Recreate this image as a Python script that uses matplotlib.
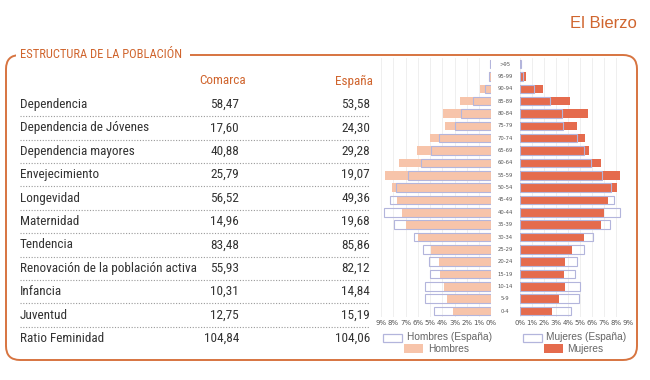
"""Estructura de la población — El Bierzo (tabla de indicadores + pirámide)."""

import numpy as np

import matplotlib
matplotlib.use("Agg")
import matplotlib.pyplot as plt
from matplotlib.patches import FancyBboxPatch, Rectangle
from matplotlib.transforms import blended_transform_factory

# ---------------------------------------------------------------------------
# Datos
# ---------------------------------------------------------------------------

indicadores = ["Dependencia", "Dependencia de Jóvenes", "Dependencia mayores",
               "Envejecimiento", "Longevidad", "Maternidad", "Tendencia",
               "Renovación de la población activa", "Infancia", "Juventud",
               "Ratio Feminidad"]
valores_comarca = [58.47, 17.60, 40.88, 25.79, 56.52, 14.96, 83.48, 55.93,
                   10.31, 12.75, 104.84]
valores_espana = [53.58, 24.30, 29.28, 19.07, 49.36, 19.68, 85.86, 82.12,
                  14.84, 15.19, 104.06]

edades = [">95", "95-99", "90-94", "85-89", "80-84", "75-79", "70-74", "65-69",
          "60-64", "55-59", "50-54", "45-49", "40-44", "35-39", "30-34",
          "25-29", "20-24", "15-19", "10-14", "5-9", "0-4"]
hombres = [0.10, 0.17, 0.90, 2.55, 3.97, 3.80, 5.04, 6.08, 7.50, 8.71, 8.10,
           7.73, 7.26, 6.96, 5.95, 4.96, 4.30, 4.19, 3.89, 3.64, 3.10]
hombres_espana = [0.10, 0.15, 0.55, 1.53, 2.47, 2.96, 4.27, 4.96, 5.73, 6.82,
                  7.75, 8.30, 8.79, 7.97, 6.30, 5.59, 5.07, 5.04, 5.42, 5.42, 4.68]
mujeres = [0.05, 0.50, 1.92, 4.20, 5.71, 4.76, 5.46, 5.74, 6.80, 8.36, 8.08,
           7.35, 7.02, 6.80, 5.35, 4.37, 3.79, 3.65, 3.73, 3.29, 2.67]
mujeres_espana = [0.05, 0.28, 1.20, 2.53, 3.54, 3.62, 4.79, 5.32, 5.90, 6.85,
                  7.60, 7.88, 8.33, 7.55, 6.13, 5.35, 4.74, 4.60, 5.01, 4.93, 4.23]
ticks_pct = list(range(0, 10))

# Estilo
NARROW = ["Liberation Sans Narrow", "Roboto Condensed", "DejaVu Sans"]
NARANJA = "#d0652e"
MARCO = "#d77440"
TEXTO = "#333333"
C_HOMBRES = "#f7c4aa"
C_MUJERES = "#e56b4d"
C_ESPANA = "#b3b5dc"
GRIS = "#666666"


def fmt(v):
    return f"{v:.2f}".replace(".", ",")


fig = plt.figure(figsize=(6.5, 3.8), dpi=100)

# Capa de fondo en píxeles (0..650 x 0..380, y hacia abajo)
bg = fig.add_axes([0, 0, 1, 1])
bg.set_xlim(0, 650)
bg.set_ylim(380, 0)
bg.axis("off")

bg.text(637, 23, "El Bierzo", ha="right", va="center", color=NARANJA,
        fontsize=12, family=["Liberation Sans", "DejaVu Sans"])

marco = FancyBboxPatch((6, 55), 631, 305,
                       boxstyle="round,pad=0,rounding_size=14",
                       fc="none", ec=MARCO, lw=1.4, zorder=1)
bg.add_patch(marco)
bg.add_patch(Rectangle((16, 48), 174, 14, fc="white", ec="none", zorder=2))
bg.text(20, 55, "ESTRUCTURA DE LA POBLACIÓN", ha="left", va="center",
        color=NARANJA, fontsize=9, family=NARROW, zorder=3)

# Tabla
bg.text(223, 81, "Comarca", ha="center", va="center", color=NARANJA,
        fontsize=9.5, family=NARROW)
bg.text(354, 81, "España", ha="center", va="center", color=NARANJA,
        fontsize=9.5, family=NARROW)
y0, paso = 104.5, 23.4
for i, (nombre, vc, ve) in enumerate(zip(indicadores, valores_comarca, valores_espana)):
    y = y0 + i * paso
    bg.text(20, y, nombre, ha="left", va="center", color=TEXTO,
            fontsize=9.5, family=NARROW)
    bg.text(239, y, fmt(vc), ha="right", va="center", color=TEXTO,
            fontsize=9.5, family=NARROW)
    bg.text(370, y, fmt(ve), ha="right", va="center", color=TEXTO,
            fontsize=9.5, family=NARROW)
    if i < len(indicadores) - 1:
        bg.plot([20, 370], [y + paso / 2, y + paso / 2], color="#9a9a9a",
                lw=0.8, ls=(0, (1, 1.5)))

# Pirámide
y_ax0 = (380 - 317.2) / 380
h_ax = (317.2 - 58.1) / 380
ax_h = fig.add_axes([381 / 650, y_ax0, 110.3 / 650, h_ax])
ax_m = fig.add_axes([520 / 650, y_ax0, 107.7 / 650, h_ax])
pos = np.arange(len(edades))

for ax, comarca, espana, color in ((ax_h, hombres, hombres_espana, C_HOMBRES),
                                   (ax_m, mujeres, mujeres_espana, C_MUJERES)):
    ax.barh(pos, comarca, height=0.68, color=color, zorder=2)
    ax.barh(pos, espana, height=0.68, fill=False, edgecolor=C_ESPANA,
            lw=0.8, zorder=3)
    ax.set_ylim(len(edades) - 0.5, -0.5)
    ax.set_yticks([])
    ax.set_xticks(ticks_pct)
    ax.set_xticklabels([f"{t}%" for t in ticks_pct])
    ax.tick_params(axis="x", length=0, labelsize=5, pad=2, colors="#555555")
    ax.grid(True, axis="x", color="#ececec", lw=0.6, zorder=0)
    ax.set_axisbelow(True)
    for s in ax.spines.values():
        s.set_visible(False)
    ax.patch.set_alpha(0)

ax_h.set_xlim(9, 0)
ax_m.set_xlim(0, 9)

trans = blended_transform_factory(ax_m.transAxes, ax_m.transData)
for p, edad in zip(pos, edades):
    ax_m.text(-15 / 107.7, p, edad, transform=trans, ha="center", va="center",
              fontsize=3.8, color="#555555")

# Leyenda (en píxeles)
leyenda = [((383, 333.5), "Hombres (España)", "white", C_ESPANA, 407, 337.5),
           ((404, 344), "Hombres", C_HOMBRES, "none", 428, 348.5),
           ((523, 333.5), "Mujeres (España)", "white", C_ESPANA, 546, 337.5),
           ((544, 344), "Mujeres", C_MUJERES, "none", 567, 348.5)]
for (xy, texto, fc, ec, xt, yt) in leyenda:
    bg.add_patch(Rectangle(xy, 19, 8.5, fc=fc, ec=ec, lw=0.9, zorder=3))
    bg.text(xt, yt, texto, ha="left", va="center", color=GRIS, fontsize=7.3,
            family=["Liberation Sans", "DejaVu Sans"])

fig.savefig("out.png", dpi=100)
